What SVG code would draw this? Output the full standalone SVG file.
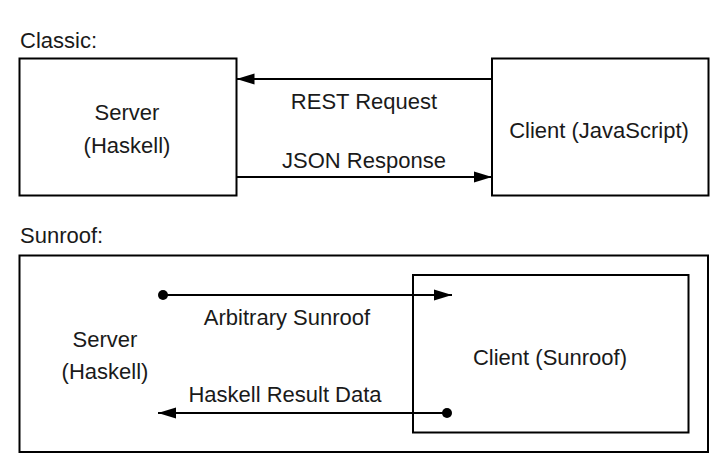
<svg xmlns="http://www.w3.org/2000/svg" width="727" height="472" viewBox="0 0 727 472">
<style>
text{font-family:"Liberation Sans","DejaVu Sans",sans-serif;font-size:22px;fill:#1a1a1a}
.c{text-anchor:middle}
.box{fill:#fff;stroke:#000;stroke-width:2}
.ln{stroke:#000;stroke-width:1.8;fill:none}
</style>
<defs>
<marker id="ah" markerUnits="userSpaceOnUse" markerWidth="20" markerHeight="14" refX="18" refY="6" orient="auto">
<path d="M0,0.5 L18,6 L0,11.5 Z" fill="#000"/>
</marker>
<marker id="dot" markerUnits="userSpaceOnUse" markerWidth="12" markerHeight="12" refX="6" refY="6">
<circle cx="6" cy="6" r="5" fill="#000"/>
</marker>
</defs>
<text x="20" y="48">Classic:</text>
<text x="20" y="243">Sunroof:</text>
<g id="classic-server">
<rect class="box" x="19.5" y="58.5" width="217" height="137"/>
<text class="c" x="127" y="120">Server</text>
<text class="c" x="127" y="153">(Haskell)</text>
</g>
<g id="classic-client">
<rect class="box" x="492" y="58.5" width="216.5" height="137"/>
<text class="c" x="599" y="138">Client (JavaScript)</text>
</g>
<g id="sunroof-server">
<rect class="box" x="19.5" y="255.5" width="688.5" height="196.5"/>
<text class="c" x="105" y="347">Server</text>
<text class="c" x="105" y="379">(Haskell)</text>
</g>
<g id="sunroof-client">
<rect class="box" x="413" y="275" width="275.5" height="157.5"/>
<text class="c" x="550" y="365">Client (Sunroof)</text>
</g>
<g id="connectors">
<line class="ln" x1="492" y1="79" x2="236.5" y2="79" marker-end="url(#ah)"/>
<text class="c" x="364" y="109">REST Request</text>
<line class="ln" x1="236.5" y1="177" x2="492" y2="177" marker-end="url(#ah)"/>
<text class="c" x="364" y="168">JSON Response</text>
<line class="ln" x1="163" y1="295" x2="452" y2="295" marker-start="url(#dot)" marker-end="url(#ah)"/>
<text class="c" x="287" y="325">Arbitrary Sunroof</text>
<line class="ln" x1="447" y1="413" x2="158" y2="413" marker-start="url(#dot)" marker-end="url(#ah)"/>
<text class="c" x="285" y="402">Haskell Result Data</text>
</g>
</svg>
